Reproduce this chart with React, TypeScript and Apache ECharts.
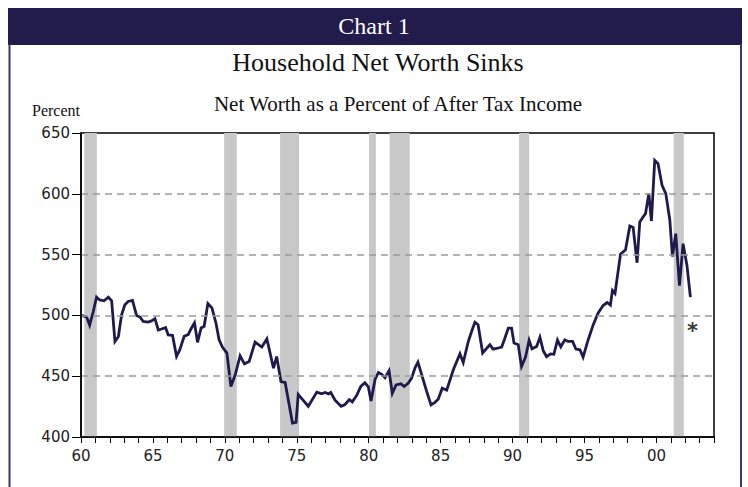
import React, { useEffect, useRef } from "react";
import * as echarts from "echarts";

const years = [
  1960.0, 1960.2, 1960.4, 1960.6, 1960.85, 1961.08, 1961.3, 1961.6, 1961.9, 1962.13,
  1962.36, 1962.6, 1962.82, 1963.05, 1963.28, 1963.58, 1963.86, 1964.1, 1964.33, 1964.67,
  1964.9, 1965.14, 1965.37, 1965.6, 1965.88, 1966.06, 1966.36, 1966.64, 1966.87, 1967.17,
  1967.45, 1967.65, 1967.89, 1968.1, 1968.35, 1968.56, 1968.82, 1969.1, 1969.38, 1969.6,
  1969.83, 1970.14, 1970.42, 1970.72, 1971.06, 1971.36, 1971.69, 1972.1, 1972.57, 1972.92,
  1973.38, 1973.6, 1973.9, 1974.19, 1974.7, 1974.95, 1975.1, 1975.39, 1975.8, 1976.39,
  1976.73, 1976.97, 1977.2, 1977.36, 1977.66, 1978.08, 1978.35, 1978.65, 1978.86, 1979.17,
  1979.46, 1979.74, 1979.97, 1980.16, 1980.44, 1980.67, 1980.9, 1981.13, 1981.41, 1981.64,
  1981.9, 1982.24, 1982.47, 1982.75, 1982.98, 1983.22, 1983.42, 1983.72, 1984.03, 1984.33,
  1984.6, 1984.83, 1985.11, 1985.42, 1985.88, 1986.34, 1986.57, 1986.92, 1987.15, 1987.38,
  1987.6, 1987.92, 1988.15, 1988.42, 1988.65, 1988.95, 1989.24, 1989.42, 1989.7, 1989.93,
  1990.1, 1990.39, 1990.62, 1990.9, 1991.15, 1991.35, 1991.67, 1991.9, 1992.13, 1992.36,
  1992.64, 1992.87, 1993.12, 1993.35, 1993.63, 1993.86, 1994.17, 1994.4, 1994.68, 1994.9,
  1995.25, 1995.6, 1995.94, 1996.29, 1996.57, 1996.8, 1996.94, 1997.12, 1997.5, 1997.85,
  1998.15, 1998.38, 1998.65, 1998.84, 1999.07, 1999.24, 1999.47, 1999.65, 1999.88, 2000.11,
  2000.39, 2000.65, 2000.93, 2001.11, 2001.34, 2001.6, 2001.85, 2002.12, 2002.36,
];

const netWorth = [
  500, 499.5, 498.5, 492, 503, 515, 512.7, 512, 515, 512,
  478.5, 482.6, 500.5, 508.8, 511.5, 512.3, 500, 498.6, 495, 494.5,
  495.5, 497.3, 488, 488.8, 490, 484, 483.6, 466.3, 471.8, 482.8,
  484.2, 489, 493.8, 477.8, 489.7, 491, 509.7, 506.2, 493.8, 480,
  474, 469, 441.5, 451.2, 466.8, 460.2, 462.1, 478.1, 474, 480.6,
  456.6, 466.2, 445.6, 444.8, 411.5, 412, 435, 431, 425.3, 436.9,
  435.5, 436.6, 435.5, 436.6, 430.3, 425.3, 426.7, 430.8, 428.9, 434.4,
  441.8, 444.6, 441.3, 429.7, 447.3, 453.1, 451.5, 448.8, 454.5, 436,
  442.8, 443.7, 441.5, 444.3, 448.5, 456.9, 461.5, 449.7, 437.4, 426.4,
  428.5, 431, 440.1, 438.5, 455.3, 468.4, 461.2, 478.5, 486.8, 494.4,
  492.3, 469, 472.2, 475.8, 472.2, 473, 474, 479.8, 489.5, 489.5,
  477.2, 475.8, 458, 465.7, 479.5, 472.5, 474.5, 482, 471, 466,
  468.3, 468, 479.7, 474.2, 479.9, 478.6, 478.6, 472.3, 471.7, 465.7,
  479.8, 492.2, 501.8, 508.1, 510.6, 508.5, 520.5, 518, 550.3, 554,
  573.5, 572.4, 543.3, 576.8, 580.9, 583.7, 600.2, 577.6, 627.5, 624.8,
  606.9, 600.2, 578.3, 548.5, 567.2, 524.4, 559, 541.1, 515,
];

const recessions = [
  [1960.23, 1961.1],
  [1969.95, 1970.83],
  [1973.84, 1975.16],
  [1980.02, 1980.5],
  [1981.45, 1982.85],
  [1990.45, 1991.15],
  [2001.2, 2001.9],
];

const gridValues = [450, 500, 550, 600];
const asteriskPoint = [2002.5, 489];

const NAVY = "#221c4c";
const LINE = "#1f1a4d";

export default function App() {
  const ref = useRef<HTMLDivElement>(null);
  useEffect(() => {
    if (!ref.current) return;
    const chart = echarts.init(ref.current, undefined, { renderer: "svg" });
    const serif = "'Liberation Serif', 'Times New Roman', serif";
    const sans = "'DejaVu Sans', Verdana, sans-serif";
    chart.setOption({
      animation: false,
      backgroundColor: "#ffffff",
      graphic: [
        { type: "rect", left: 8, top: 8, shape: { width: 734, height: 37 }, style: { fill: NAVY }, z: 10 },
        { type: "line", shape: { x1: 9.5, y1: 44, x2: 9.5, y2: 487 }, style: { stroke: "#3b3570", lineWidth: 2 }, z: 10 },
        { type: "line", shape: { x1: 741, y1: 44, x2: 741, y2: 487 }, style: { stroke: "#3b3570", lineWidth: 2 }, z: 10 },
        { type: "text", x: 374, y: 26, style: { text: "Chart 1", fill: "#ffffff", font: `24px ${serif}`, textAlign: "center", textVerticalAlign: "middle" }, z: 11 },
        { type: "text", x: 378, y: 62, style: { text: "Household Net Worth Sinks", fill: "#111111", font: `26px ${serif}`, textAlign: "center", textVerticalAlign: "middle" }, z: 11 },
        { type: "text", x: 398, y: 104, style: { text: "Net Worth as a Percent of After Tax Income", fill: "#111111", font: `21px ${serif}`, textAlign: "center", textVerticalAlign: "middle" }, z: 11 },
        { type: "text", x: 32, y: 110, style: { text: "Percent", fill: "#111111", font: `16px ${serif}`, textAlign: "left", textVerticalAlign: "middle" }, z: 11 },
      ],
      grid: {
        left: 81,
        right: 34,
        top: 133,
        bottom: 50,
        show: true,
        borderColor: "#000000",
        borderWidth: 1.5,
        backgroundColor: "transparent",
      },
      xAxis: {
        type: "value",
        min: 1960,
        max: 2004,
        interval: 1,
        z: 5,
        axisLine: { show: true, onZero: false, lineStyle: { color: "#000000", width: 1.5 } },
        axisTick: { show: true, length: 6, lineStyle: { color: "#000000", width: 1 } },
        splitLine: { show: false },
        axisLabel: {
          color: "#222222",
          fontFamily: sans,
          fontSize: 15,
          margin: 11,
          formatter: (v: number) => (v % 5 === 0 ? String(v % 100).padStart(2, "0") : ""),
        },
      },
      yAxis: {
        type: "value",
        min: 400,
        max: 650,
        interval: 50,
        z: 5,
        axisLine: { show: true, lineStyle: { color: "#000000", width: 1.5 } },
        axisTick: { show: true, length: 9, lineStyle: { color: "#000000", width: 1 } },
        splitLine: { show: false },
        axisLabel: { color: "#222222", fontFamily: sans, fontSize: 15, margin: 11 },
      },
      series: [
        {
          type: "line",
          data: [],
          silent: true,
          z: 1,
          markArea: {
            silent: true,
            itemStyle: { color: "#c8c8c8" },
            data: recessions.map((r) => [{ xAxis: r[0] }, { xAxis: r[1] }]),
          },
        },
        {
          type: "line",
          data: [],
          silent: true,
          z: 2,
          markLine: {
            silent: true,
            symbol: "none",
            label: { show: false },
            lineStyle: { color: "#9a9a9a", width: 1.5, type: [7, 5] },
            data: gridValues.map((v) => ({ yAxis: v })),
          },
        },
        {
          type: "line",
          data: years.map((y, i) => [y, netWorth[i]]),
          showSymbol: false,
          symbol: "none",
          z: 3,
          lineStyle: { color: LINE, width: 2.8, join: "miter" },
        },
        {
          type: "scatter",
          data: [asteriskPoint],
          symbolSize: 0,
          z: 4,
          label: {
            show: true,
            position: "inside",
            formatter: "*",
            color: "#000000",
            fontFamily: sans,
            fontSize: 21,
            fontWeight: "bold",
            offset: [0, 2],
          },
        },
      ],
    });
    return () => chart.dispose();
  }, []);
  return (
    <div
      ref={ref}
      style={{ position: "fixed", left: 0, top: 0, width: 748, height: 487 }}
    />
  );
}
